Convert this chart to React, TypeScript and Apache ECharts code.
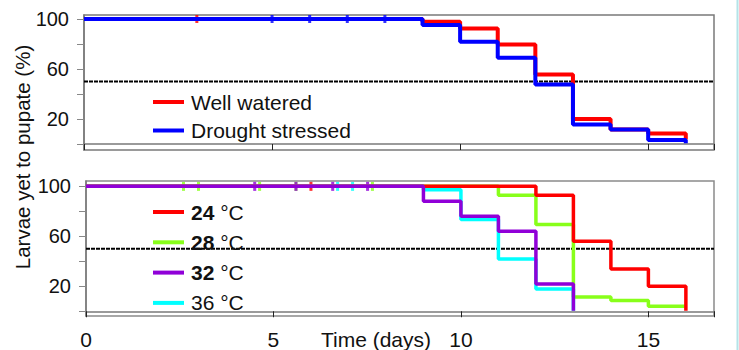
import React, { useEffect, useRef } from 'react';
import * as echarts from 'echarts';

// ---- Top panel: water treatment ----
const wellDays = [0, 9, 10, 11, 12, 13, 14, 15, 16];
const wellValues = [100, 97.9, 92.5, 79.7, 55.7, 20, 11.7, 8.5, 3.7];
const droughtDays = [0, 9, 10, 11, 12, 13, 14, 15, 16];
const droughtValues = [100, 95.2, 81.9, 69, 47.7, 15.7, 11.7, 3.2, 0.6];
const wellCensor = [3];
const droughtCensor = [5, 6, 7, 8];

// ---- Bottom panel: temperature ----
const t24Days = [0, 12, 13, 14, 15, 16];
const t24Values = [100, 92.8, 56, 33.9, 20, 0.5];
const t28Days = [0, 11, 12, 13, 14, 15, 16];
const t28Values = [100, 92.8, 69.4, 11.5, 8.6, 4, 4];
const t32Days = [0, 9, 10, 11, 12, 13];
const t32Values = [100, 88, 76, 64, 21.9, 0.5];
const t36Days = [0, 9, 10, 11, 12, 13];
const t36Values = [100, 97.3, 73.4, 41.9, 17.9, 0.5];
const t24Censor = [6.0];
const t28Censor = [2.6, 3.0, 4.63, 5.6, 7.64];
const t32Censor = [4.5, 5.6, 6.58, 7.51];
const t36Censor = [6.71, 7.11];

const threshold = 50;
const xMax = 16.75;
const xLabelValues = [0, 5, 10, 15];
const yTickValues = [0, 20, 40, 60, 80, 100];
const yLabelValues = [20, 60, 100];

const FONT = 'Liberation Sans, Arial, sans-serif';

const zip = (xs: number[], ys: number[]) => xs.map((x, i) => [x, ys[i]]);
const censor = (xs: number[]) => xs.map((x) => [x, 100]);

export default function App() {
  const ref = useRef<HTMLDivElement>(null);
  useEffect(() => {
    if (!ref.current) return;
    const chart = echarts.init(ref.current, null, { renderer: 'svg' });

    const xAxisBase = (gridIndex: number, showLabels: boolean) => ({
      type: 'value',
      gridIndex,
      min: 0,
      max: xMax,
      interval: 5,
      axisLine: { show: true, lineStyle: { color: '#7a7a7a', width: 1.5 } },
      axisTick: { show: true, length: 6, lineStyle: { color: '#222', width: 1 } },
      axisLabel: {
        show: showLabels,
        fontSize: 21,
        fontFamily: FONT,
        color: '#111',
        margin: 13,
        customValues: xLabelValues,
      },
      splitLine: { show: false },
    });

    const yAxisBase = (gridIndex: number, min: number, max: number) => ({
      type: 'value',
      gridIndex,
      min,
      max,
      axisLine: { show: true, lineStyle: { color: '#7a7a7a', width: 1.5 } },
      axisTick: { show: true, length: 7, customValues: yTickValues, lineStyle: { color: '#888', width: 1 } },
      axisLabel: {
        show: true,
        fontSize: 20,
        fontFamily: FONT,
        color: '#111',
        margin: 15,
        customValues: yLabelValues,
      },
      splitLine: { show: false },
    });

    const stepLine = (name: string, data: number[][], color: string, width: number, idx: number) => ({
      name,
      type: 'line',
      step: 'end',
      xAxisIndex: idx,
      yAxisIndex: idx,
      data,
      showSymbol: false,
      symbol: 'none',
      lineStyle: { color, width },
      itemStyle: { color },
      silent: true,
    });

    const ticks = (name: string, xs: number[], color: string, h: number, idx: number) => ({
      name,
      type: 'scatter',
      xAxisIndex: idx,
      yAxisIndex: idx,
      data: censor(xs),
      symbol: 'rect',
      symbolSize: [3, h],
      itemStyle: { color },
      silent: true,
    });

    const refLine = (idx: number) => ({
      name: 'ref' + idx,
      type: 'line',
      xAxisIndex: idx,
      yAxisIndex: idx,
      data: [[0, threshold], [xMax, threshold]],
      symbol: 'none',
      lineStyle: { color: '#000', width: 2, type: [4, 1] },
      silent: true,
    });

    const RED = '#ff0000';
    const BLUE = '#0000ff';
    const GREEN = '#88ff1a';
    const PURPLE = '#9000d8';
    const CYAN = '#00ffff';

    const legendText = {
      fontSize: 21,
      fontFamily: FONT,
      color: '#111',
      lineHeight: 22,
      padding: [0, 0, 0, 2],
    };

    chart.setOption({
      animation: false,
      backgroundColor: '#ffffff',
      grid: [
        { left: 84, right: 25, top: 15, height: 135, show: true, borderColor: '#7a7a7a', borderWidth: 1.5, backgroundColor: 'transparent' },
        { left: 86, right: 25, top: 181, height: 135.5, show: true, borderColor: '#8a8a8a', borderWidth: 1.5, backgroundColor: 'transparent' },
      ],
      xAxis: [xAxisBase(0, false), xAxisBase(1, true)],
      yAxis: [yAxisBase(0, -4.8, 103.2), yAxisBase(1, -3.8, 104.3)],
      legend: [
        {
          orient: 'vertical',
          left: 148,
          top: 86,
          itemWidth: 31,
          itemHeight: 4,
          itemGap: 6.5,
          icon: 'rect',
          data: ['Well watered', 'Drought stressed'],
          textStyle: legendText,
        },
        {
          orient: 'vertical',
          left: 148,
          top: 196,
          itemWidth: 31,
          itemHeight: 4,
          itemGap: 8.3,
          icon: 'rect',
          data: ['24 °C', '28 °C', '32 °C', '36 °C'],
          formatter: (name: string) => {
            const parts = name.split(' ');
            if (parts[0] === '36') return name;
            return `{b|${parts[0]}} ${parts[1]}`;
          },
          textStyle: {
            ...legendText,
            rich: { b: { fontSize: 21, fontFamily: FONT, fontWeight: 'bold', color: '#111', lineHeight: 22 } },
          },
        },
      ],
      graphic: [
        {
          type: 'text',
          x: 22,
          y: 157,
          rotation: Math.PI / 2,
          style: {
            text: 'Larvae yet to pupate (%)',
            fontSize: 20.5,
            fontFamily: FONT,
            fill: '#111',
            textAlign: 'center',
            textVerticalAlign: 'middle',
          },
        },
        {
          type: 'text',
          x: 376,
          y: 339,
          style: {
            text: 'Time (days)',
            fontSize: 21,
            fontFamily: FONT,
            fill: '#111',
            textAlign: 'center',
            textVerticalAlign: 'middle',
          },
        },
        {
          type: 'rect',
          shape: { x: 736.5, y: 0, width: 2, height: 350 },
          style: { fill: '#b4e3e8' },
        },
      ],
      series: [
        refLine(0),
        stepLine('Well watered', zip(wellDays, wellValues), RED, 4, 0),
        stepLine('Drought stressed', zip(droughtDays, droughtValues), BLUE, 4, 0),
        ticks('Well watered censored', wellCensor, RED, 8, 0),
        ticks('Drought stressed censored', droughtCensor, BLUE, 8, 0),
        refLine(1),
        stepLine('28 °C', zip(t28Days, t28Values), GREEN, 3.5, 1),
        stepLine('36 °C', zip(t36Days, t36Values), CYAN, 3.5, 1),
        stepLine('24 °C', zip(t24Days, t24Values), RED, 3.5, 1),
        stepLine('32 °C', zip(t32Days, t32Values), PURPLE, 3.5, 1),
        ticks('28 censored', t28Censor, GREEN, 9, 1),
        ticks('24 censored', t24Censor, RED, 9, 1),
        ticks('36 censored', t36Censor, CYAN, 9, 1),
        ticks('32 censored', t32Censor, PURPLE, 9, 1),
      ],
    });
    return () => chart.dispose();
  }, []);

  return (
    <div
      ref={ref}
      style={{ position: 'absolute', left: 0, top: 0, width: 739, height: 350 }}
    />
  );
}
